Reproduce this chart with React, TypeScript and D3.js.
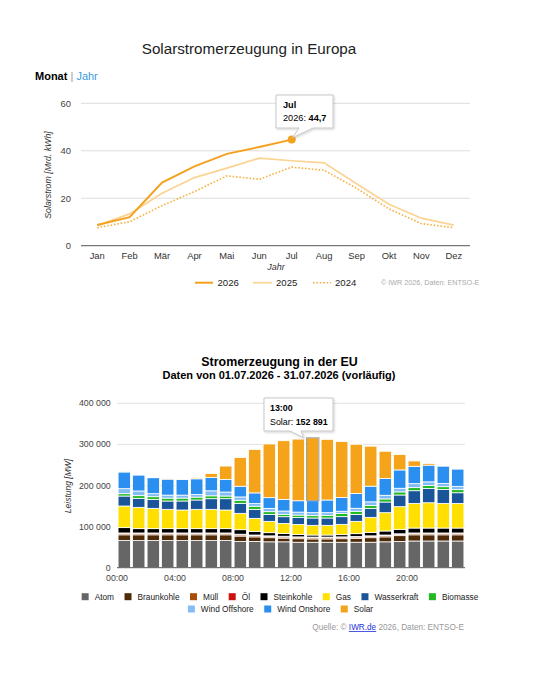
import React from "react";
import * as d3 from "d3";

// ---------- Top chart data ----------
const months = ["Jan", "Feb", "Mär", "Apr", "Mai", "Jun", "Jul", "Aug", "Sep", "Okt", "Nov", "Dez"];
const solar2026 = [8.7, 12.0, 26.6, 33.4, 38.7, 41.6, 44.7];
const solar2025 = [8.5, 13.4, 22.1, 28.7, 32.7, 36.9, 35.8, 34.9, 26.1, 17.5, 11.6, 8.7];
const solar2024 = [7.6, 10.1, 16.9, 22.8, 29.4, 28.0, 33.1, 31.8, 24.2, 15.5, 9.3, 7.6];
const topTicks = [0, 20, 40, 60];

// ---------- Bottom chart data ----------
const hours = ["00:00", "01:00", "02:00", "03:00", "04:00", "05:00", "06:00", "07:00", "08:00", "09:00", "10:00", "11:00",
  "12:00", "13:00", "14:00", "15:00", "16:00", "17:00", "18:00", "19:00", "20:00", "21:00", "22:00", "23:00"];
const hourTicks = ["00:00", "04:00", "08:00", "12:00", "16:00", "20:00"];
const bottomTicks = [0, 100000, 200000, 300000, 400000];

const atom = [66000, 66000, 66000, 66000, 66000, 66000, 66000, 66000, 64000, 64000, 63000, 63000, 62000, 62000, 62000, 62000, 62000, 62000, 63000, 64000, 65000, 65000, 65000, 65000];
const braunkohle = [14000, 14000, 14000, 14000, 14000, 14000, 14000, 14000, 13000, 11000, 10000, 9000, 8500, 8000, 8000, 8500, 9500, 11000, 12000, 14000, 15000, 15000, 15000, 15000];
const muell = [3000, 3000, 3000, 3000, 3000, 3000, 3000, 3000, 3000, 3000, 3000, 3000, 3000, 3000, 3000, 3000, 3000, 3000, 3000, 3000, 3000, 3000, 3000, 3000];
const oel = [1500, 1500, 1500, 1500, 1500, 1500, 1500, 1500, 1500, 1500, 1500, 1500, 1500, 1500, 1500, 1500, 1500, 1500, 1500, 1500, 1500, 1500, 1500, 1500];
const steinkohle = [13000, 10500, 10500, 10500, 10500, 10500, 10500, 10500, 11000, 9000, 7700, 7000, 6000, 5000, 5000, 5400, 6800, 8500, 9800, 10800, 12000, 12000, 12000, 12000];
const gas = [52600, 51900, 49400, 47000, 45400, 47000, 47000, 45400, 39800, 31600, 27600, 24300, 24300, 23600, 23600, 25100, 30000, 36500, 44600, 55200, 60000, 61600, 60000, 60000];
const wasserkraft = [24300, 21900, 21900, 20300, 21900, 22700, 25900, 27500, 24300, 21900, 17000, 16300, 17000, 17800, 17800, 18700, 17000, 21900, 25900, 28400, 30800, 34900, 34100, 25900];
const biomasse = [5700, 6500, 6500, 7000, 7000, 7000, 7000, 6500, 7500, 7500, 6500, 5700, 5700, 5700, 6500, 7500, 7500, 7000, 7500, 7500, 7500, 7000, 6500, 7500];
const windOffshore = [12200, 11400, 7300, 7300, 7300, 6500, 12200, 9700, 8100, 6500, 8100, 8100, 7300, 7300, 6500, 5700, 7300, 8900, 8900, 8900, 9700, 8900, 8100, 8100];
const windOnshore = [40600, 38900, 38900, 38900, 38100, 38100, 32400, 30800, 26000, 26000, 26000, 28400, 27600, 29200, 30800, 33300, 35700, 38100, 40600, 44600, 42200, 40600, 42200, 42200];
const solar = [800, 1000, 800, 800, 800, 2500, 9700, 32400, 69700, 105400, 130600, 142700, 150000, 152891, 147600, 136200, 120000, 97300, 66500, 37300, 13000, 4000, 1600, 1200];

const seriesNames = ["Atom", "Braunkohle", "Müll", "Öl", "Steinkohle", "Gas", "Wasserkraft", "Biomasse", "Wind Offshore", "Wind Onshore", "Solar"];
const seriesValues = [atom, braunkohle, muell, oel, steinkohle, gas, wasserkraft, biomasse, windOffshore, windOnshore, solar];
const seriesColors = ["#666666", "#4f2a06", "#a84e0a", "#cc1111", "#000000", "#ffe000", "#1a5499", "#22b822", "#84bdf5", "#2b8ff0", "#f4a31a"];

const FONT = "Arial, 'Liberation Sans', sans-serif";
const locale = d3.formatLocale({ decimal: ",", thousands: " ", grouping: [3], currency: ["", ""] });
const fmtInt = locale.format(",d");
const fmtDec = locale.format(",.1f");

export default function App() {
  // ----- top chart scales -----
  const xT = d3.scaleBand<string>().domain(months).range([81, 470]);
  const cx = (m: string) => (xT(m) as number) + xT.bandwidth() / 2;
  const yT = d3.scaleLinear().domain([0, 60]).range([245.7, 103.3]);
  const lineGen = d3.line<number>().x((_, i) => cx(months[i])).y((d) => yT(d));

  const hl = 6; // Jul index
  const hlX = cx(months[hl]);
  const hlY = yT(solar2026[hl]);

  // ----- bottom chart scales -----
  const xB = d3.scaleBand<string>().domain(hours).range([117, 465]).paddingInner(0.15).paddingOuter(0.075);
  const yB = d3.scaleLinear().domain([0, 400000]).range([567.7, 403.3]);
  const rows = hours.map((h, i) => {
    const r: Record<string, any> = { hour: h };
    seriesNames.forEach((s, k) => (r[s] = seriesValues[k][i]));
    return r;
  });
  const stacked = d3.stack<any>().keys(seriesNames)(rows);
  const hlHour = 13;
  const solarLayer = stacked[stacked.length - 1][hlHour];
  const tickX = (h: string) => (xB(h) as number) - (xB.step() * xB.paddingInner()) / 2;

  // legend rows bottom
  const legendRow1 = seriesNames.slice(0, 8);
  const legendRow2 = seriesNames.slice(8);
  const lfs = 8.3;
  const gapItem = 10.5;
  const measure = (t: string) => {
    const c = document.createElement("canvas").getContext("2d");
    if (!c) return t.length * lfs * 0.5;
    c.font = `${lfs}px Arial, 'Liberation Sans'`;
    return c.measureText(t).width;
  };
  const rowWidth = (names: string[]) => names.reduce((a, n) => a + 13 + measure(n) + gapItem, 0) - gapItem;
  const layoutRow = (names: string[], startX: number) => {
    let x = startX;
    return names.map((n) => {
      const item = { name: n, x };
      x += 13 + measure(n) + gapItem;
      return item;
    });
  };
  const row1 = layoutRow(legendRow1, 280 - rowWidth(legendRow1) / 2);
  const row2 = layoutRow(legendRow2, 280.5 - rowWidth(legendRow2) / 2);

  return (
    <svg width={560} height={696} style={{ position: "absolute", left: 0, top: 0, fontFamily: FONT }}>
      <defs>
        <filter id="shadow" x="-20%" y="-20%" width="150%" height="160%">
          <feDropShadow dx="1" dy="1" stdDeviation="1.2" floodColor="#000" floodOpacity="0.18" />
        </filter>
      </defs>
      <rect width={560} height={696} fill="#fff" />

      {/* ================= TOP CHART ================= */}
      <text x={249} y={54} textAnchor="middle" fontSize={15.2} fill="#222">Solarstromerzeugung in Europa</text>
      <text x={35} y={80} fontSize={11} fill="#000">
        <tspan fontWeight="bold">Monat</tspan>
        <tspan fill="#999"> | </tspan>
        <tspan fill="#3d9be0">Jahr</tspan>
      </text>

      {topTicks.map((t) => (
        <g key={t}>
          <line x1={81} x2={470} y1={yT(t)} y2={yT(t)} stroke={t === 0 ? "#777" : "#ddd"} strokeWidth={t === 0 ? 1.2 : 1} />
          <text x={71} y={yT(t) + 3.3} textAnchor="end" fontSize={9.4} fill="#444">{t}</text>
        </g>
      ))}
      {months.map((m) => (
        <text key={m} x={cx(m)} y={259} textAnchor="middle" fontSize={9.4} fill="#333">{m}</text>
      ))}
      <text x={276} y={270} textAnchor="middle" fontSize={9} fontStyle="italic" fill="#333">Jahr</text>
      <text transform="translate(51,175) rotate(-90)" textAnchor="middle" fontSize={8.8} fontStyle="italic" fill="#333">Solarstrom [Mrd. kWh]</text>

      <path d={lineGen(solar2024) || ""} fill="none" stroke="#f6b244" strokeWidth={1.6} strokeDasharray="1.6,1.8" />
      <path d={lineGen(solar2025) || ""} fill="none" stroke="#fbd393" strokeWidth={1.7} />
      <path d={lineGen(solar2026) || ""} fill="none" stroke="#f4a21d" strokeWidth={2} />
      <circle cx={hlX} cy={hlY} r={4} fill="#f4a21d" />

      {/* tooltip top */}
      <path d={`M276,95 H333 V128 H313 L${hlX + 1},${hlY - 2} L299,128 H276 Z`} fill="#fff" stroke="#c8c8c8" strokeWidth={1} filter="url(#shadow)" />
      <text x={283} y={108} fontSize={9.2} fontWeight="bold" fill="#000">{months[hl]}</text>
      <text x={283} y={121} fontSize={9.2} fill="#000">
        2026: <tspan fontWeight="bold">{fmtDec(solar2026[hl])}</tspan>
      </text>

      {/* legend top */}
      <line x1={195} x2={213} y1={282.7} y2={282.7} stroke="#f4a21d" strokeWidth={2} />
      <text x={217.5} y={286.2} fontSize={9.6} fill="#222">2026</text>
      <line x1={253} x2={272} y1={282.7} y2={282.7} stroke="#fbd393" strokeWidth={1.7} />
      <text x={276} y={286.2} fontSize={9.6} fill="#222">2025</text>
      <line x1={313} x2={331} y1={282.7} y2={282.7} stroke="#f6b244" strokeWidth={1.6} strokeDasharray="1.6,1.8" />
      <text x={335} y={286.2} fontSize={9.6} fill="#222">2024</text>
      <text x={381} y={285} fontSize={7.2} fill="#aaa">© IWR 2026, Daten: ENTSO-E</text>

      {/* ================= BOTTOM CHART ================= */}
      <text x={279.5} y={366} textAnchor="middle" fontSize={12.4} fontWeight="bold" fill="#000">Stromerzeugung in der EU</text>
      <text x={279} y={379} textAnchor="middle" fontSize={11} fontWeight="bold" fill="#000">Daten von 01.07.2026 - 31.07.2026 (vorläufig)</text>

      {bottomTicks.map((t) => (
        <g key={t}>
          {t > 0 && <line x1={117} x2={465} y1={yB(t)} y2={yB(t)} stroke="#e2e2e2" strokeWidth={1} />}
          <text x={110.7} y={yB(t) + 3} textAnchor="end" fontSize={8.8} fill="#444">{fmtInt(t)}</text>
        </g>
      ))}
      <text transform="translate(71,486) rotate(-90)" textAnchor="middle" fontSize={8.5} fontStyle="italic" fill="#333">Leistung [MW]</text>

      {stacked.map((layer, k) => (
        <g key={layer.key} fill={seriesColors[k]}>
          {layer.map((d, i) => (
            <rect
              key={i}
              x={xB(hours[i]) as number}
              y={yB(d[1])}
              width={xB.bandwidth()}
              height={Math.max(0, yB(d[0]) - yB(d[1]))}
              stroke="#fff"
              strokeWidth={0.8}
            />
          ))}
        </g>
      ))}
      {/* highlighted bar outline */}
      <rect
        x={xB(hours[hlHour]) as number}
        y={yB(solarLayer[1])}
        width={xB.bandwidth()}
        height={yB(solarLayer[0]) - yB(solarLayer[1])}
        fill="none"
        stroke="#999"
        strokeWidth={1}
      />

      <line x1={117} x2={465} y1={yB(0)} y2={yB(0)} stroke="#555" strokeWidth={1} />
      {hourTicks.map((h) => (
        <text key={h} x={tickX(h)} y={581} textAnchor="middle" fontSize={8.8} fill="#444">{h}</text>
      ))}

      {/* tooltip bottom */}
      <path d={`M264,398 H333 V431 H301 L${(xB(hours[hlHour]) as number) - 3},${yB(solarLayer[1])} L290,431 H264 Z`} fill="#fff" stroke="#c8c8c8" strokeWidth={1} filter="url(#shadow)" />
      <text x={270} y={411} fontSize={8.9} fontWeight="bold" fill="#000">{hours[hlHour]}</text>
      <text x={270} y={424.5} fontSize={8.9} fill="#000">
        {seriesNames[10]}: <tspan fontWeight="bold">{fmtInt(solar[hlHour])}</tspan>
      </text>

      {/* legend bottom */}
      {row1.map((it) => (
        <g key={it.name}>
          <rect x={it.x} y={593.2} width={7} height={7} fill={seriesColors[seriesNames.indexOf(it.name)]} />
          <text x={it.x + 13} y={599.6} fontSize={lfs} fill="#222">{it.name}</text>
        </g>
      ))}
      {row2.map((it) => (
        <g key={it.name}>
          <rect x={it.x} y={605.5} width={7} height={7} fill={seriesColors[seriesNames.indexOf(it.name)]} />
          <text x={it.x + 13} y={611.9} fontSize={lfs} fill="#222">{it.name}</text>
        </g>
      ))}
      <text x={464} y={630} textAnchor="end" fontSize={8.2} fill="#999">
        Quelle: © <tspan fill="#2233dd" textDecoration="underline">IWR.de</tspan> 2026, Daten: ENTSO-E
      </text>
    </svg>
  );
}
